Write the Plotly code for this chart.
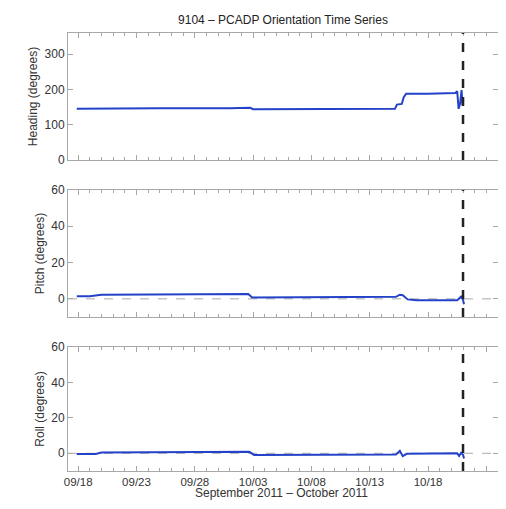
import plotly.graph_objects as go

title_text = "9104 \u2013 PCADP Orientation Time Series"
x_title = "September 2011 \u2013 October 2011"
panel_titles = ["Heading (degrees)", "Pitch (degrees)", "Roll (degrees)"]

heading_time = ["2011-09-17 21:00", "2011-09-20 00:00", "2011-09-25 00:00", "2011-10-01 00:00",
                "2011-10-02 18:00", "2011-10-03 00:00", "2011-10-08 00:00", "2011-10-13 00:00",
                "2011-10-15 04:00", "2011-10-15 08:00", "2011-10-15 18:00", "2011-10-15 22:00",
                "2011-10-16 03:00", "2011-10-18 00:00", "2011-10-20 08:00", "2011-10-20 12:00",
                "2011-10-20 15:00", "2011-10-20 18:00", "2011-10-20 21:00", "2011-10-20 23:00",
                "2011-10-21 00:30"]
heading_vals = [145, 146, 147, 147, 148, 144, 144, 144, 145, 157, 159, 178,
                188, 188, 190, 195, 145, 160, 198, 155, 170]

pitch_time = ["2011-09-17 21:00", "2011-09-19 00:00", "2011-09-20 00:00", "2011-09-22 00:00",
              "2011-09-26 00:00", "2011-10-01 00:00", "2011-10-02 14:00", "2011-10-02 22:00",
              "2011-10-08 00:00", "2011-10-14 00:00", "2011-10-15 06:00", "2011-10-15 14:00",
              "2011-10-15 20:00", "2011-10-16 06:00", "2011-10-17 00:00", "2011-10-20 12:00",
              "2011-10-20 20:00", "2011-10-21 00:00", "2011-10-21 02:00"]
pitch_vals = [1.4, 1.5, 2.2, 2.3, 2.5, 2.7, 2.7, 0.8, 0.8, 0.9, 1.1, 2.3,
              2.0, -0.3, -0.8, -0.8, 1.2, -0.5, -3.0]

roll_time = ["2011-09-17 21:00", "2011-09-19 12:00", "2011-09-20 00:00", "2011-09-25 00:00",
             "2011-10-02 06:00", "2011-10-02 16:00", "2011-10-03 02:00", "2011-10-08 00:00",
             "2011-10-15 06:00", "2011-10-15 14:00", "2011-10-15 20:00", "2011-10-16 04:00",
             "2011-10-18 00:00", "2011-10-20 12:00", "2011-10-20 16:00", "2011-10-20 20:00",
             "2011-10-21 00:00", "2011-10-21 02:00"]
roll_vals = [-0.4, -0.4, 0.4, 0.4, 0.5, 0.8, -0.9, -0.9, -0.7, 1.4, -1.6, -0.3,
             -0.2, 0.0, -1.5, 0.3, -0.8, -3.0]

y_ranges = [[0, 360], [-10, 60], [-10, 60]]
y_ticks = [[0, 100, 200, 300], [0, 20, 40, 60], [0, 20, 40, 60]]
x_tickvals = ["2011-09-18", "2011-09-23", "2011-09-28", "2011-10-03",
              "2011-10-08", "2011-10-13", "2011-10-18", "2011-10-23"]
x_ticktext = ["09/18", "09/23", "09/28", "10/03", "10/08", "10/13", "10/18", ""]
x_range = ["2011-09-17 03:00", "2011-10-24 00:00"]
event_time = "2011-10-21 00:00"

# page body has an 8px margin; figure drawn at offset (8, 8)
OFF = 8
W, H = 506 - 2 * OFF, 509 - 2 * OFF
x_dom = [(68 - OFF) / W, (498 - OFF) / W]
panels_px = [(33, 160), (190, 317), (347, 471)]
y_doms = [[(H - (b - OFF)) / H, (H - (t - OFF)) / H] for t, b in panels_px]

line_color = "#2342c9"
frame_color = "#a8a8a8"
font_family = "Liberation Sans, Arial, Helvetica, sans-serif"

fig = go.Figure()
series = [(heading_time, heading_vals), (pitch_time, pitch_vals), (roll_time, roll_vals)]
for i, (t, v) in enumerate(series):
    sfx = "" if i == 0 else str(i + 1)
    fig.add_trace(go.Scatter(x=t, y=v, mode="lines", line=dict(color=line_color, width=2),
                             xaxis="x" + sfx, yaxis="y" + sfx, showlegend=False))

layout = dict(
    width=W, height=H, margin=dict(l=0, r=0, t=0, b=0, autoexpand=False),
    paper_bgcolor="white", plot_bgcolor="white",
    font=dict(family=font_family, size=12, color="#333333"),
    title=dict(text=title_text, x=(283 - OFF) / W, xanchor="center",
               y=1 - (20 - OFF) / H, yanchor="middle",
               font=dict(size=12, color="#222222")),
    showlegend=False,
    annotations=[dict(text=x_title, xref="paper", yref="paper", showarrow=False,
                      x=(281 - OFF) / W, y=0,
                      xanchor="center", yanchor="bottom", borderpad=0,
                      font=dict(size=12, color="#333333"))],
)

for i in range(3):
    sfx = "" if i == 0 else str(i + 1)
    xa = dict(
        type="date", domain=x_dom, range=x_range, anchor="y" + sfx, automargin=False,
        tickvals=x_tickvals, ticktext=x_ticktext,
        ticks="inside", ticklen=5, tickcolor=frame_color, mirror="ticks",
        showline=True, linecolor=frame_color, linewidth=1, showgrid=False, zeroline=False,
        showticklabels=(i == 2),
        minor=dict(dtick=86400000, tick0="2011-09-18", ticks="inside", ticklen=3,
                   tickcolor=frame_color, showgrid=False),
        tickfont=dict(size=11.5, color="#333333"),
    )
    if i != 2:
        xa["matches"] = "x3"
    ya = dict(
        domain=y_doms[i], range=y_ranges[i], anchor="x" + sfx, automargin=False,
        tickvals=y_ticks[i], ticks="inside", ticklen=5, tickcolor=frame_color,
        mirror="ticks", showline=True, linecolor=frame_color, linewidth=1,
        showgrid=False, zeroline=False,
        tickfont=dict(size=12, color="#333333"),
        title=dict(text=panel_titles[i], standoff=4, font=dict(size=12, color="#333333")),
    )
    layout["xaxis" + sfx] = xa
    layout["yaxis" + sfx] = ya

shapes = []
for i in range(3):
    sfx = "" if i == 0 else str(i + 1)
    shapes.append(dict(type="line", xref="x" + sfx, yref="y" + sfx + " domain",
                       x0=event_time, x1=event_time, y0=0, y1=1,
                       line=dict(color="#222222", width=2.5, dash="dash")))
    if i > 0:
        shapes.append(dict(type="line", xref="x" + sfx + " domain", yref="y" + sfx,
                           x0=0, x1=1, y0=0, y1=0, layer="below",
                           line=dict(color="#aaaaaa", width=1, dash="dash")))
layout["shapes"] = shapes

fig.update_layout(**layout)
fig.write_html("out.html")
